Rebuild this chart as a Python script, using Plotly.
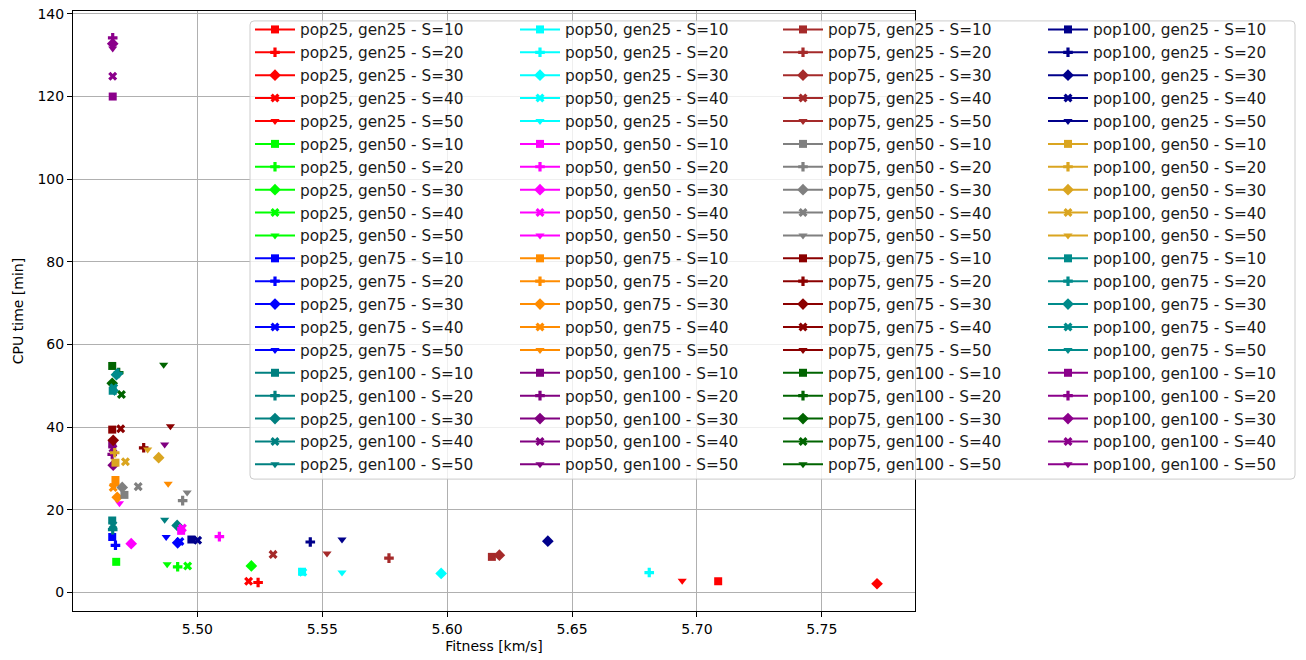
import plotly.graph_objects as go

# Experiment grid
pops = [25, 50, 75, 100]
gens = [25, 50, 75, 100]
s_values = [10, 20, 30, 40, 50]

# Fitness [km/s] per population: rows = gen25, gen50, gen75, gen100; cols = S10..S50
fitness_pop25 = [
    [5.7085, 5.5243, 5.7721, 5.5205, 5.6941],
    [5.4675, 5.4921, 5.5216, 5.4961, 5.4879],
    [5.4659, 5.4672, 5.4921, 5.4930, 5.4875],
    [5.4659, 5.4661, 5.4919, 5.4662, 5.4869],
]
fitness_pop50 = [
    [5.5419, 5.6809, 5.5976, 5.5422, 5.5579],
    [5.4935, 5.5088, 5.4735, 5.4940, 5.4688],
    [5.4672, 5.4668, 5.4679, 5.4663, 5.4883],
    [5.4659, 5.4659, 5.4663, 5.4662, 5.4869],
]
fitness_pop75 = [
    [5.6179, 5.5767, 5.6209, 5.5303, 5.5519],
    [5.4708, 5.4941, 5.4699, 5.4763, 5.4959],
    [5.4659, 5.4785, 5.4663, 5.4693, 5.4892],
    [5.4659, 5.4685, 5.4659, 5.4696, 5.4865],
]
fitness_pop100 = [
    [5.4976, 5.5452, 5.6403, 5.5001, 5.5579],
    [5.4672, 5.4669, 5.4845, 5.4712, 5.4801],
    [5.4661, 5.4682, 5.4676, 5.4665, 5.4668],
    [5.4661, 5.4661, 5.4661, 5.4661, 5.4661],
]

# CPU time [min], same layout
cpu_pop25 = [
    [2.7, 2.4, 2.1, 2.7, 2.8],
    [7.4, 6.2, 6.4, 6.4, 6.8],
    [13.4, 11.4, 12.0, 12.3, 13.4],
    [17.4, 15.2, 16.2, 16.3, 17.6],
]
cpu_pop50 = [
    [5.0, 4.8, 4.6, 4.9, 4.8],
    [14.9, 13.5, 11.8, 15.6, 21.6],
    [27.2, 26.0, 23.0, 25.4, 26.3],
    [35.8, 33.4, 30.8, 34.8, 35.8],
]
cpu_pop75 = [
    [8.6, 8.3, 9.0, 9.2, 9.4],
    [23.6, 22.2, 25.4, 25.6, 24.2],
    [39.4, 35.0, 36.8, 39.6, 40.2],
    [54.8, 53.2, 50.6, 47.9, 55.1],
]
cpu_pop100 = [
    [12.8, 12.2, 12.4, 12.6, 12.8],
    [31.4, 33.8, 32.6, 31.6, 34.6],
    [48.8, 53.0, 52.7, 49.5, 48.5],
    [120.0, 134.2, 132.8, 124.9, 131.6],
]

fitness = {25: fitness_pop25, 50: fitness_pop50, 75: fitness_pop75, 100: fitness_pop100}
cpu = {25: cpu_pop25, 50: cpu_pop50, 75: cpu_pop75, 100: cpu_pop100}

colors = {
    25: ["#ff0000", "#00ff00", "#0000ff", "#008080"],
    50: ["#00ffff", "#ff00ff", "#ff8c00", "#800080"],
    75: ["#a52a2a", "#808080", "#8b0000", "#006400"],
    100: ["#00008b", "#daa520", "#008b8b", "#8b008b"],
}
symbols = ["square", "cross", "diamond", "x", "triangle-down"]
sizes = [8, 8, 9, 8, 8]

FONT = "DejaVu Sans"
fig = go.Figure()

for col, p in enumerate(pops):
    legend_id = "legend" if col == 0 else f"legend{col + 1}"
    for gi, g in enumerate(gens):
        for si, s in enumerate(s_values):
            fig.add_trace(go.Scatter(
                x=[fitness[p][gi][si]],
                y=[cpu[p][gi][si]],
                mode="lines+markers",
                name=f"pop{p}, gen{g} - S={s}",
                line=dict(color=colors[p][gi], width=2),
                marker=dict(symbol=symbols[si], size=sizes[si], color=colors[p][gi],
                            line=dict(width=0)),
                legend=legend_id,
            ))

L, R, T, B = 73, 391, 6, 49
W, H = 1306, 660
pw, ph = W - L - R, H - T - B

def px_x(px):
    return (px - L) / pw

def px_y(py):
    return (H - B - py) / ph

legend_style = dict(
    xanchor="left", yanchor="top", bgcolor="rgba(0,0,0,0)", borderwidth=0,
    font=dict(family=FONT, size=15.3, color="#1a1a1a"), itemwidth=40,
)
col_left = [250, 515, 778, 1043]
layout_legends = {}
for i, xl in enumerate(col_left):
    key = "legend" if i == 0 else f"legend{i + 1}"
    layout_legends[key] = dict(legend_style, x=px_x(xl), y=px_y(8))

# rounded legend frame
x0, x1, y0, y1 = px_x(250), px_x(1295), px_y(478), px_y(16)
rx, ry = 4 / pw, 4 / ph
frame = (f"M{x0 + rx},{y0} L{x1 - rx},{y0} Q{x1},{y0} {x1},{y0 + ry} "
         f"L{x1},{y1 - ry} Q{x1},{y1} {x1 - rx},{y1} L{x0 + rx},{y1} "
         f"Q{x0},{y1} {x0},{y1 - ry} L{x0},{y0 + ry} Q{x0},{y0} {x0 + rx},{y0} Z")

fig.update_layout(
    width=W, height=H,
    margin=dict(l=L, r=R, t=T, b=B, pad=0),
    paper_bgcolor="white", plot_bgcolor="white",
    showlegend=True,
    font=dict(family=FONT, size=14, color="black"),
    shapes=[dict(type="path", xref="paper", yref="paper", path=frame,
                 fillcolor="rgba(255,255,255,0.8)", line=dict(color="#cccccc", width=1),
                 layer="above")],
    xaxis=dict(
        range=[5.4502, 5.7873], tickvals=[5.50, 5.55, 5.60, 5.65, 5.70, 5.75],
        ticktext=["5.50", "5.55", "5.60", "5.65", "5.70", "5.75"],
        showgrid=True, gridcolor="#b0b0b0", gridwidth=1, zeroline=False,
        showline=True, linecolor="black", linewidth=1, mirror=True,
        ticks="outside", ticklen=5, tickcolor="black",
        title=dict(text="Fitness [km/s]", font=dict(size=14), standoff=5),
        tickfont=dict(size=14),
    ),
    yaxis=dict(
        range=[-4.5, 140.7], tickvals=[0, 20, 40, 60, 80, 100, 120, 140],
        showgrid=True, gridcolor="#b0b0b0", gridwidth=1, zeroline=False,
        showline=True, linecolor="black", linewidth=1, mirror=True,
        ticks="outside", ticklen=5, tickcolor="black",
        title=dict(text="CPU time [min]", font=dict(size=14), standoff=10),
        tickfont=dict(size=14),
    ),
    **layout_legends,
)

fig.write_html("out.html")
